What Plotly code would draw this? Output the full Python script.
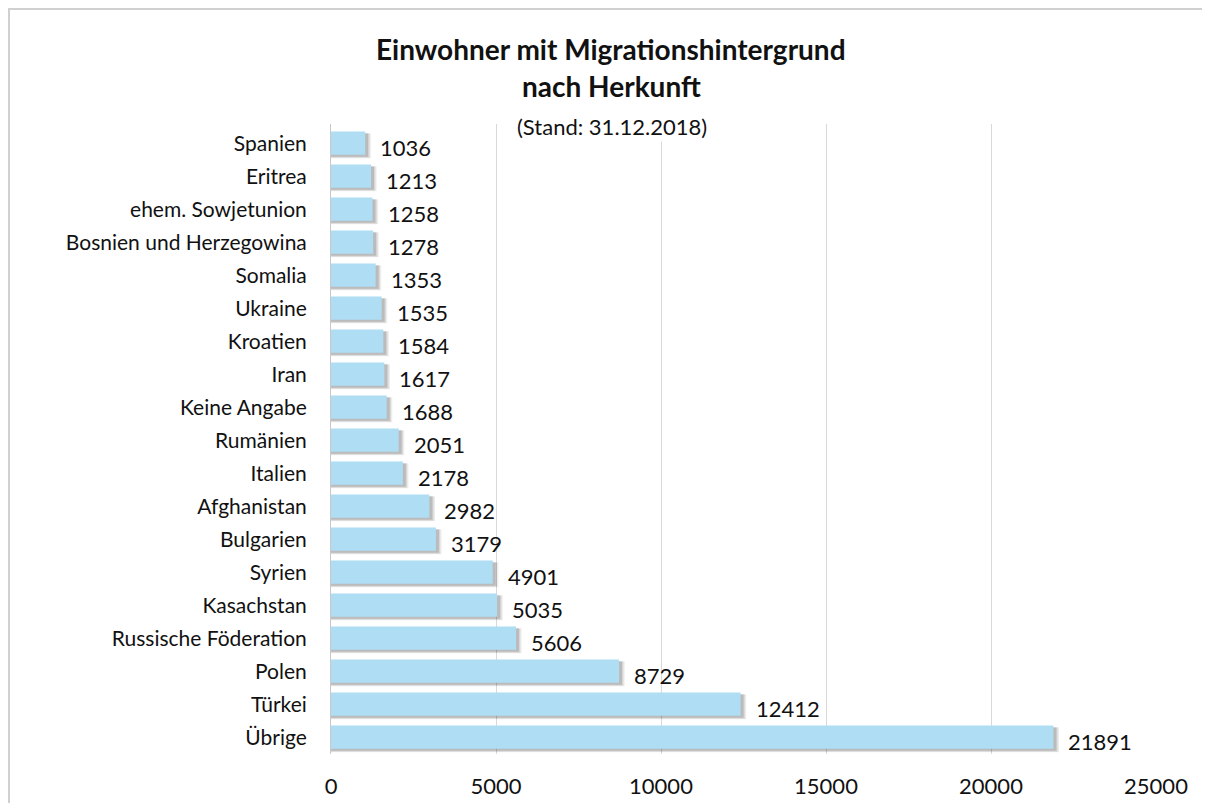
import plotly.graph_objects as go

categories = ["Spanien", "Eritrea", "ehem. Sowjetunion", "Bosnien und Herzegowina", "Somalia",
              "Ukraine", "Kroatien", "Iran", "Keine Angabe", "Rumänien", "Italien", "Afghanistan",
              "Bulgarien", "Syrien", "Kasachstan", "Russische Föderation", "Polen", "Türkei", "Übrige"]
values = [1036, 1213, 1258, 1278, 1353, 1535, 1584, 1617, 1688, 2051, 2178, 2982,
          3179, 4901, 5035, 5606, 8729, 12412, 21891]
x_ticks = [0, 5000, 10000, 15000, 20000, 25000]
title_line1 = "Einwohner mit Migrationshintergrund"
title_line2 = "nach Herkunft"
subtitle = "(Stand: 31.12.2018)"

FONT = "Lato"
OFF = 8  # page body margin
W, H = 1210 - OFF, 803 - OFF
L, T = 331 - OFF, 124 - OFF
PR, PB = 1156 - OFF, 754 - OFF
R, B = W - PR, H - PB
pw, ph = PR - L, PB - T

def px_x(px):
    return (px - OFF - L) / pw

def px_y(py):
    return (PB - (py - OFF)) / ph

fig = go.Figure()

# soft shadow layers (derived from values)
for dx, w, off, a in [(170, 0.76, -0.31, 0.07), (130, 0.73, -0.30, 0.09), (90, 0.71, -0.31, 0.13)]:
    fig.add_trace(go.Bar(y=categories, x=[v + dx for v in values], orientation="h",
                         width=w, offset=off, marker=dict(color=f"rgba(0,0,0,{a})", line=dict(width=0)),
                         hoverinfo="skip", showlegend=False))
fig.add_trace(go.Bar(y=categories, x=values, orientation="h", width=0.70, offset=-0.36,
                     marker=dict(color="#AEDDF4", line=dict(width=0)), showlegend=False))

for c, v in zip(categories, values):
    fig.add_annotation(x=v, y=c, text=str(v), showarrow=False, xanchor="left", yanchor="middle",
                       xshift=13, yshift=-4, font=dict(family=FONT, size=22, color="#111"))

fig.add_annotation(xref="paper", yref="paper", x=px_x(611), y=px_y(49), text="<b>" + title_line1 + "</b>",
                   showarrow=False, xanchor="center", yanchor="middle", font=dict(family=FONT, size=28, color="#111"))
fig.add_annotation(xref="paper", yref="paper", x=px_x(611), y=px_y(86), text="<b>" + title_line2 + "</b>",
                   showarrow=False, xanchor="center", yanchor="middle", font=dict(family=FONT, size=28, color="#111"))
fig.add_annotation(xref="paper", yref="paper", x=px_x(612), y=px_y(127), text=subtitle,
                   showarrow=False, xanchor="center", yanchor="middle", font=dict(family=FONT, size=22, color="#111"),
                   bgcolor="white")

# outer frame
fig.add_shape(type="rect", xref="paper", yref="paper", x0=px_x(9), x1=px_x(1240), y0=px_y(840), y1=px_y(9),
              line=dict(color="#d0d0d0", width=2), fillcolor="rgba(0,0,0,0)", layer="below")

fig.update_layout(
    width=W, height=H, margin=dict(l=L, r=R, t=T, b=B, autoexpand=False),
    plot_bgcolor="white", paper_bgcolor="white", barmode="overlay",
    xaxis=dict(range=[0, 25000], tickvals=x_ticks, tickformat="d", showgrid=True, gridcolor="#d9d9d9",
               gridwidth=1, zeroline=False, showline=False, ticks="", ticklabelstandoff=17, automargin=False,
               tickfont=dict(family=FONT, size=22, color="#111")),
    yaxis=dict(autorange="reversed", showgrid=False, showline=True, linecolor="#c8c8c8", linewidth=1,
               ticks="", ticklabelstandoff=19, automargin=False, tickfont=dict(family=FONT, size=21, color="#111")),
)

fig.write_html("out.html")
